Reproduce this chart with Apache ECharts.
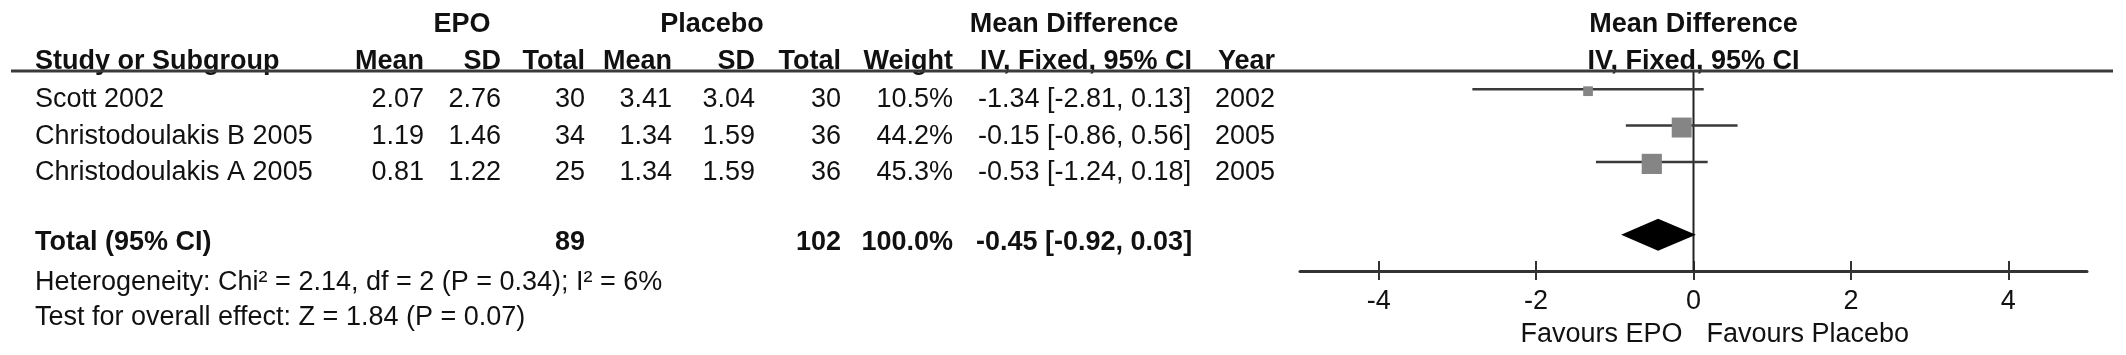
<!DOCTYPE html>
<html>
<head>
<meta charset="utf-8">
<title>EPO vs Placebo - Mean Difference</title>
<script src="https://cdn.jsdelivr.net/npm/echarts@6/dist/echarts.min.js"></script>
<style>
  html, body { margin: 0; padding: 0; background: #fff; }
  #chart { width: 2126px; height: 355px; }
</style>
</head>
<body>
<div id="chart"></div>
<script>
// study data
var studies = ['Scott 2002', 'Christodoulakis B 2005', 'Christodoulakis A 2005'];
var epoMean = [2.07, 1.19, 0.81];
var epoSD = [2.76, 1.46, 1.22];
var epoTotal = [30, 34, 25];
var placeboMean = [3.41, 1.34, 1.34];
var placeboSD = [3.04, 1.59, 1.59];
var placeboTotal = [30, 36, 36];
var weights = [10.5, 44.2, 45.3];
var meanDiff = [-1.34, -0.15, -0.53];
var ciLow = [-2.81, -0.86, -1.24];
var ciHigh = [0.13, 0.56, 0.18];
var years = [2002, 2005, 2005];

// pooled result
var pooled = { epoTotal: 89, placeboTotal: 102, weight: 100.0, md: -0.45, low: -0.92, high: 0.03 };
var heterogeneity = 'Heterogeneity: Chi\u00b2 = 2.14, df = 2 (P = 0.34); I\u00b2 = 6%';
var overallEffect = 'Test for overall effect: Z = 1.84 (P = 0.07)';

// axis
var tickValues = [-4, -2, 0, 2, 4];
var axisMin = -5, axisMax = 5;

var FONT = '"Liberation Sans", Arial, Helvetica, sans-serif';
var INK = '#111';

// table layout (pixels)
var col = {
  name: 35, epoMean: 424, epoSD: 501, epoTotal: 585,
  plMean: 672, plSD: 755, plTotal: 841, weight: 953, ci: 978, year: 1275
};
var rowY = [100, 137, 173];
var headY1 = 25, headY2 = 62, totalY = 243, hetY = 283, testY = 318;

function txt(s, x, y, align, bold) {
  return {
    type: 'text', x: x, y: y, silent: true,
    style: {
      text: String(s), fill: INK,
      font: (bold ? 'bold ' : '') + '27px ' + FONT,
      textAlign: align, textVerticalAlign: 'middle'
    }
  };
}

function ciText(m, lo, hi) {
  return m.toFixed(2) + ' [' + lo.toFixed(2) + ', ' + hi.toFixed(2) + ']';
}

var studyData = studies.map(function(s, i) {
  return [meanDiff[i], ciLow[i], ciHigh[i], i, weights[i]];
});

var chart = echarts.init(document.getElementById('chart'), null, { renderer: 'canvas' });

var option = {
  backgroundColor: '#fff',
  animation: false,
  grid: { left: 1300, right: 39, top: 71, bottom: 84, containLabel: false },
  xAxis: [{
    type: 'value', min: axisMin, max: axisMax, position: 'bottom',
    axisLine: { show: true, onZero: false, lineStyle: { color: '#333', width: 3 } },
    axisTick: { show: true, inside: true, length: 10, customValues: tickValues,
      lineStyle: { color: '#333', width: 2 } },
    axisLabel: { show: true, customValues: tickValues, margin: 17,
      fontSize: 27, fontFamily: FONT, color: INK },
    splitLine: { show: false }
  }, {
    type: 'value', min: axisMin, max: axisMax, position: 'bottom',
    axisLine: { show: false, onZero: false },
    axisTick: { show: true, inside: false, length: 9, customValues: tickValues,
      lineStyle: { color: '#333', width: 2 } },
    axisLabel: { show: false },
    splitLine: { show: false }
  }],
  yAxis: {
    type: 'value', min: -0.5, max: 5, inverse: true, show: false
  },
  series: [{
    // line of no effect
    type: 'line', silent: true, symbol: 'none',
    data: [[0, -0.5], [0, 5]],
    lineStyle: { color: '#222', width: 2 }, z: 1
  }, {
    type: 'custom', silent: true, z: 3,
    data: studyData,
    encode: { x: [0, 1, 2], y: 3 },
    renderItem: function(params, api) {
      var row = api.value(3);
      var lo = api.coord([api.value(1), row]);
      var hi = api.coord([api.value(2), row]);
      var mid = api.coord([api.value(0), row]);
      var side = 3 * Math.sqrt(api.value(4));
      return {
        type: 'group',
        children: [{
          type: 'line',
          shape: { x1: lo[0], y1: lo[1], x2: hi[0], y2: hi[1] },
          style: { stroke: '#3a3a3a', lineWidth: 2.5 }
        }, {
          type: 'rect',
          shape: { x: mid[0] - side / 2, y: mid[1] - side / 2 + 2, width: side, height: side },
          style: { fill: '#858585' }
        }]
      };
    }
  }, {
    type: 'custom', silent: true, z: 3,
    data: [[pooled.md, pooled.low, pooled.high, 4]],
    encode: { x: [0, 1, 2], y: 3 },
    renderItem: function(params, api) {
      var row = api.value(3);
      var lo = api.coord([api.value(1), row]);
      var hi = api.coord([api.value(2), row]);
      var mid = api.coord([api.value(0), row]);
      var h = 16;
      return {
        type: 'polygon',
        shape: { points: [[lo[0], mid[1]], [mid[0], mid[1] - h], [hi[0], mid[1]], [mid[0], mid[1] + h]] },
        style: { fill: '#000' }
      };
    }
  }]
};

chart.setOption(option);

// table text + headers, placed after the axes exist
var zeroX = chart.convertToPixel({ xAxisIndex: 0 }, 0);
var els = [];

els.push({
  type: 'line', silent: true, z: 5,
  shape: { x1: 11, y1: 71, x2: 2113, y2: 71 },
  style: { stroke: '#3a3a3a', lineWidth: 3 }
});

// header row 1
els.push(txt('EPO', 462, headY1, 'center', true));
els.push(txt('Placebo', 712, headY1, 'center', true));
els.push(txt('Mean Difference', 1074, headY1, 'center', true));
els.push(txt('Mean Difference', zeroX, headY1, 'center', true));

// header row 2
els.push(txt('Study or Subgroup', col.name, headY2, 'left', true));
els.push(txt('Mean', col.epoMean, headY2, 'right', true));
els.push(txt('SD', col.epoSD, headY2, 'right', true));
els.push(txt('Total', col.epoTotal, headY2, 'right', true));
els.push(txt('Mean', col.plMean, headY2, 'right', true));
els.push(txt('SD', col.plSD, headY2, 'right', true));
els.push(txt('Total', col.plTotal, headY2, 'right', true));
els.push(txt('Weight', col.weight, headY2, 'right', true));
els.push(txt('IV, Fixed, 95% CI', 980, headY2, 'left', true));
els.push(txt('Year', col.year, headY2, 'right', true));
els.push(txt('IV, Fixed, 95% CI', zeroX, headY2, 'center', true));

// study rows
studies.forEach(function(s, i) {
  var y = rowY[i];
  els.push(txt(s, col.name, y, 'left'));
  els.push(txt(epoMean[i].toFixed(2), col.epoMean, y, 'right'));
  els.push(txt(epoSD[i].toFixed(2), col.epoSD, y, 'right'));
  els.push(txt(epoTotal[i], col.epoTotal, y, 'right'));
  els.push(txt(placeboMean[i].toFixed(2), col.plMean, y, 'right'));
  els.push(txt(placeboSD[i].toFixed(2), col.plSD, y, 'right'));
  els.push(txt(placeboTotal[i], col.plTotal, y, 'right'));
  els.push(txt(weights[i].toFixed(1) + '%', col.weight, y, 'right'));
  els.push(txt(ciText(meanDiff[i], ciLow[i], ciHigh[i]), col.ci, y, 'left'));
  els.push(txt(years[i], col.year, y, 'right'));
});

// total row
els.push(txt('Total (95% CI)', col.name, totalY, 'left', true));
els.push(txt(pooled.epoTotal, col.epoTotal, totalY, 'right', true));
els.push(txt(pooled.placeboTotal, col.plTotal, totalY, 'right', true));
els.push(txt(pooled.weight.toFixed(1) + '%', col.weight, totalY, 'right', true));
els.push(txt(ciText(pooled.md, pooled.low, pooled.high), 976, totalY, 'left', true));
els.push(txt(heterogeneity, col.name, hetY, 'left'));
els.push(txt(overallEffect, col.name, testY, 'left'));

// favours labels
els.push(txt('Favours EPO', zeroX - 11, 335, 'right'));
els.push(txt('Favours Placebo', zeroX + 13, 335, 'left'));

chart.setOption({ graphic: { elements: els } });

window.onresize = function() {
  chart.resize();
};
</script>
</body>
</html>
